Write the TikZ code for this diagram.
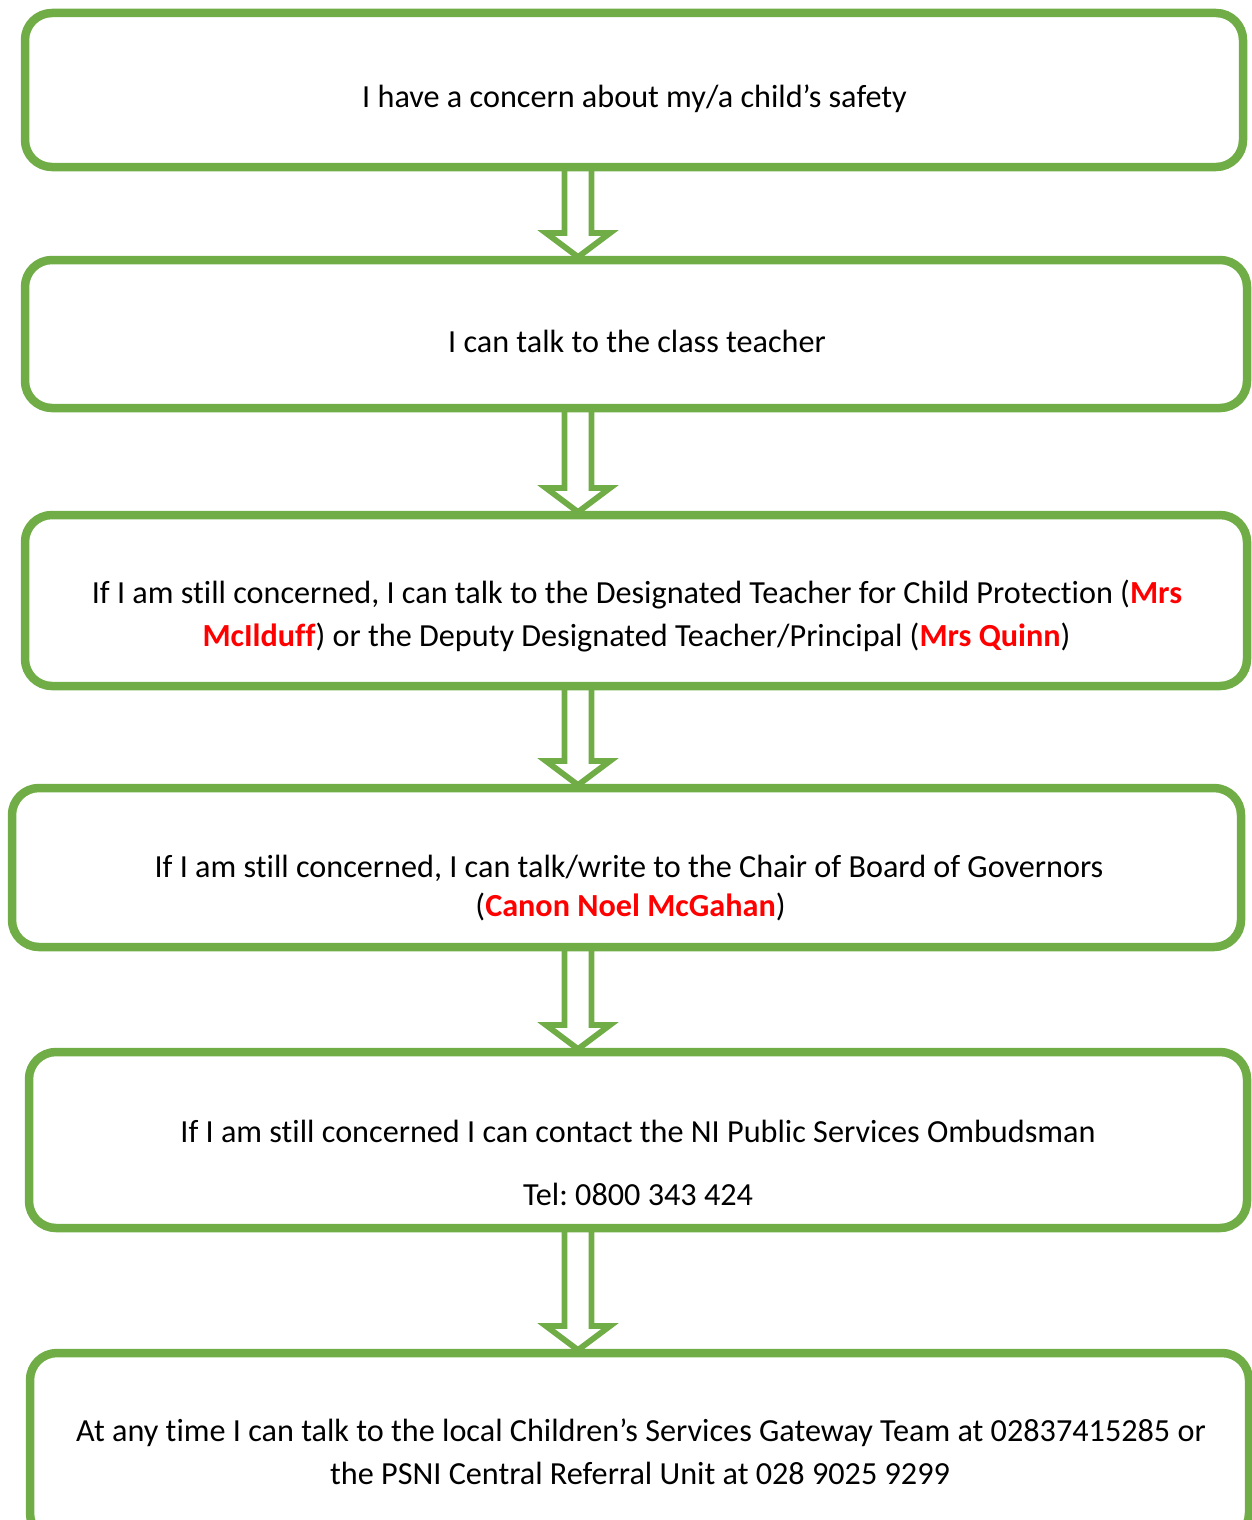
\documentclass[tikz,border=0pt]{standalone}
\usepackage{fontspec}
\usepackage{graphicx}
\setmainfont{Carlito}[Ligatures=NoCommon]
\usetikzlibrary{calc,backgrounds}
\definecolor{boxgreen}{HTML}{70AD47}
\definecolor{namered}{HTML}{FF0000}
\frenchspacing
\tikzset{
  box/.style={draw=boxgreen, line width=8.5pt, rounded corners=27pt, rectangle, inner sep=0pt, outer sep=0pt},
  txt/.style={anchor=base, inner sep=0pt, font=\fontsize{32.2}{38}\selectfont, text=black},
  hollow/.style={draw=boxgreen, line width=5.8pt, fill=white, line join=miter},
}
\newcommand\nm[1]{\textcolor{namered}{\textbf{#1}}}
\newcommand\harrow[2]{%
  \draw[hollow] ($(#1.south -| ax)+(-13.5,0)$) -- ($(#2.north -| ax)+(-13.5,-27)$) -- ($(#2.north -| ax)+(-32,-27)$) -- ($(#2.north -| ax)+(0,-3)$) -- ($(#2.north -| ax)+(32,-27)$) -- ($(#2.north -| ax)+(13.5,-27)$) -- ($(#1.south -| ax)+(13.5,0)$) -- cycle;}
\begin{document}
\begin{tikzpicture}[x=1pt,y=-1pt]
\useasboundingbox (0,0) rectangle (1251,1520);
\coordinate (ax) at (578,0);
% boxes
\node[box, minimum width=1218pt, minimum height=154pt] (b1) at (634,90) {};
\node[box, minimum width=1222pt, minimum height=148pt] (b2) at (636,334) {};
\node[box, minimum width=1222pt, minimum height=171pt] (b3) at (636,600.5) {};
\node[box, minimum width=1229pt, minimum height=159pt] (b4) at (626.5,867.5) {};
\node[box, minimum width=1218pt, minimum height=176pt] (b5) at (638,1140) {};
\node[box, minimum width=1219pt, minimum height=187pt] (b6) at (639.5,1446.5) {};
% texts
\node[txt] (t1) at (634.5,107) {I have a concern about my/a child’s safety};
\node[txt] (t2) at (637,352) {I can talk to the class teacher};
\node[txt] (t3a) at (637,603) {If I am still concerned, I can talk to the Designated Teacher for Child Protection (\nm{Mrs}};
\node[txt] (t3b) at (636.5,646) {\nm{McIlduff}) or the Deputy Designated Teacher/Principal (\nm{Mrs Quinn})};
\node[txt] (t4a) at (629,877) {If I am still concerned, I can talk/write to the Chair of Board of Governors};
\node[txt] (t4b) at (630.5,916) {(\nm{Canon Noel McGahan})};
\node[txt] (t5a) at (638,1142) {If I am still concerned I can contact the NI Public Services Ombudsman};
\node[txt] (t5b) at (638,1205) {Tel: 0800 343 424};
\node[txt] (t6a) at (641,1441) {At any time I can talk to the local Children’s Services Gateway Team at 02837415285 or};
\node[txt] (t6b) at (640,1484) {the PSNI Central Referral Unit at 028 9025 9299};
% arrows
\begin{scope}[on background layer]
\harrow{b1}{b2}
\harrow{b2}{b3}
\harrow{b3}{b4}
\harrow{b4}{b5}
\harrow{b5}{b6}
\end{scope}
\end{tikzpicture}
\end{document}
